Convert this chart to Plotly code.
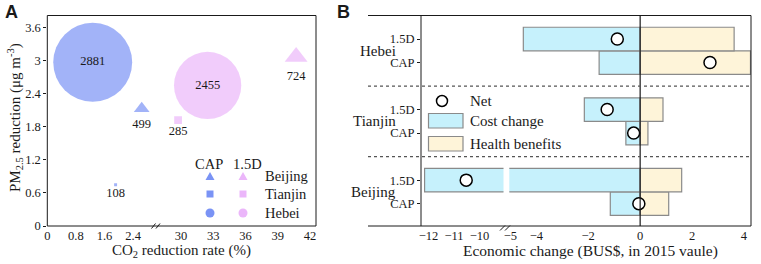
import plotly.graph_objects as go

W, H = 761, 264


def px(x):
    return x / W


def py(y):
    return 1 - y / H


SERIF = "Liberation Serif"
SANS = "Liberation Sans"
BLUE = "#7A93F5"
PINK = "#EBB6FA"
CYAN = "#C6F1FC"
CREAM = "#FEF4D9"
EDGE = "#8A8A8A"
INK = "#1a1a1a"

# ---------------- Panel A data ----------------
a_regions = ["Beijing", "Tianjin", "Hebei"]
a_symbols = {"Beijing": "triangle-up", "Tianjin": "square", "Hebei": "circle"}
cap_co2 = [2.64, 1.91, 1.27]
cap_pm = [2.13, 0.75, 2.97]
cap_val = [499, 108, 2881]
d15_co2 = [40.71, 29.72, 32.47]
d15_pm = [3.07, 1.92, 2.55]
d15_val = [724, 285, 2455]
a_yticks = [0, 0.6, 1.2, 1.8, 2.4, 3.0, 3.6]
a_yticktext = ["0", "0.6", "1.2", "1.8", "2.4", "3", "3.6"]
a_xticks_left = [0, 0.8, 1.6, 2.4]
a_xticks_right = [30, 33, 36, 39, 42]

# ---------------- Panel B data ----------------
b_regions = ["Beijing", "Tianjin", "Hebei"]
b_scen = ["CAP", "1.5D"]
b_cost = [-1.15, -12.15, -0.55, -2.15, -1.58, -4.50]
b_health = [1.10, 1.60, 0.30, 0.88, 4.25, 3.62]
b_net = [-0.05, -10.52, -0.25, -1.27, 2.69, -0.88]
b_xticks_left = [-12, -11, -10]
b_xticks_right = [-5, -4, -2, 0, 2, 4]

b_pos = [gi * 3 + si for gi in range(len(b_regions)) for si in range(len(b_scen))]
b_ticktext = [s for _ in b_regions for s in b_scen]

fig = go.Figure()

size_per_unit = 1 / 36.5
for xa, co2, pm, val, col in [("x", cap_co2, cap_pm, cap_val, BLUE),
                              ("x2", d15_co2, d15_pm, d15_val, PINK)]:
    fig.add_trace(go.Scatter(
        x=co2, y=pm, xaxis=xa, yaxis="y",
        mode="markers+text",
        text=[str(v) for v in val],
        textposition=["middle center" if r == "Hebei" else "bottom center" for r in a_regions],
        textfont=dict(family=SERIF, size=12.5, color=INK),
        marker=dict(symbol=[a_symbols[r] for r in a_regions],
                    size=[v * size_per_unit for v in val],
                    color=col, line=dict(width=0)),
        showlegend=False, hoverinfo="skip"))

for xa in ["x3", "x4"]:
    fig.add_trace(go.Bar(
        x=b_cost, y=b_pos, base=0, orientation="h", width=1,
        xaxis=xa, yaxis="y2", marker=dict(color=CYAN, line=dict(color=EDGE, width=1.2)),
        showlegend=False, hoverinfo="skip"))
    fig.add_trace(go.Bar(
        x=b_health, y=b_pos, base=0, orientation="h", width=1,
        xaxis=xa, yaxis="y2", marker=dict(color=CREAM, line=dict(color=EDGE, width=1.2)),
        showlegend=False, hoverinfo="skip"))
    fig.add_trace(go.Scatter(
        x=b_net, y=b_pos, xaxis=xa, yaxis="y2", mode="markers",
        marker=dict(symbol="circle", size=12, color="white", line=dict(color="black", width=1.5)),
        showlegend=False, hoverinfo="skip"))

tickfont = dict(family=SERIF, size=12.5, color=INK)
common_x = dict(showgrid=False, zeroline=False, showline=False, ticks="", automargin=False,
                tickfont=tickfont, fixedrange=True)
common_y = dict(showgrid=False, zeroline=False, showline=False, ticks="outside", ticklen=3,
                tickcolor=INK, tickfont=tickfont, automargin=False, fixedrange=True)

ya_dom = [py(226), py(15.5)]
fig.update_layout(
    width=W, height=H, margin=dict(l=0, r=0, t=0, b=0, pad=0), autosize=False,
    paper_bgcolor="white", plot_bgcolor="rgba(0,0,0,0)",
    barmode="overlay", showlegend=False, hovermode=False,
    xaxis=dict(domain=[px(47.3), px(156)], range=[0, 3.04], tickvals=a_xticks_left,
               ticktext=["0", "0.8", "1.6", "2.4"], anchor="y", **common_x),
    xaxis2=dict(domain=[px(156.5), px(316)], range=[27.71, 42.56], tickvals=a_xticks_right,
                anchor="y", **common_x),
    yaxis=dict(domain=ya_dom, range=[0, 3.82], tickvals=a_yticks, ticktext=a_yticktext,
               anchor="x", **common_y),
    xaxis3=dict(domain=[px(421), px(503.5)], range=[-12.29, -9.06], tickvals=b_xticks_left,
                anchor="y2", **common_x),
    xaxis4=dict(domain=[px(509.3), px(751)], range=[-5.04, 4.27], tickvals=b_xticks_right,
                anchor="y2", **common_x),
    yaxis2=dict(domain=ya_dom, range=[-0.95, 8.0], tickvals=b_pos, ticktext=b_ticktext,
                anchor="x3", **common_y),
)

shapes = []
line = dict(color=INK, width=1)
# Panel A frame
shapes.append(dict(type="rect", xref="paper", yref="paper", x0=px(47.3), x1=px(316),
                   y0=py(226), y1=py(15.5), line=line))
# Panel A axis break marks
for dx in (0, 4.5):
    shapes.append(dict(type="line", xref="paper", yref="paper", x0=px(151.5 + dx), x1=px(155.5 + dx),
                       y0=py(228.5), y1=py(223.5), line=dict(color=INK, width=1)))
# Panel B frame lines
shapes.append(dict(type="line", xref="paper", yref="paper", x0=px(368), x1=px(751),
                   y0=py(15.5), y1=py(15.5), line=line))
shapes.append(dict(type="line", xref="paper", yref="paper", x0=px(368), x1=px(751),
                   y0=py(226), y1=py(226), line=line))
shapes.append(dict(type="line", xref="paper", yref="paper", x0=px(751), x1=px(751),
                   y0=py(226), y1=py(15.5), line=line))
shapes.append(dict(type="line", xref="paper", yref="paper", x0=px(421), x1=px(421),
                   y0=py(226), y1=py(15.5), line=line))
# Panel B zero line
shapes.append(dict(type="line", xref="x4", yref="y2 domain", x0=0, x1=0, y0=0, y1=1,
                   line=dict(color=INK, width=1.2), layer="above"))
# Panel B group separators
for gi in range(1, len(b_regions)):
    ysep = gi * 3 - 1
    shapes.append(dict(type="line", xref="paper", yref="y2", x0=px(368), x1=px(751),
                       y0=ysep, y1=ysep, line=dict(color="#555", width=1.2, dash="dot")))
# Panel B axis break marks
for dx in (0, 5):
    shapes.append(dict(type="line", xref="paper", yref="paper", x0=px(500 + dx), x1=px(505 + dx),
                       y0=py(230.5), y1=py(225.5), line=dict(color=INK, width=1)))

# Panel A legend symbols
rows_y = [176, 194, 213]
for cx, col in [(210, BLUE), (243, PINK)]:
    ty = rows_y[0]
    shapes.append(dict(type="path", xref="paper", yref="paper",
                       path=f"M {px(cx-4.5)} {py(ty+4)} L {px(cx+4.5)} {py(ty+4)} L {px(cx)} {py(ty-4)} Z",
                       fillcolor=col, line=dict(width=0)))
    sy = rows_y[1]
    shapes.append(dict(type="rect", xref="paper", yref="paper", x0=px(cx-3.5), x1=px(cx+3.5),
                       y0=py(sy+3.5), y1=py(sy-3.5), fillcolor=col, line=dict(width=0)))
    cy = rows_y[2]
    shapes.append(dict(type="circle", xref="paper", yref="paper", x0=px(cx-4.5), x1=px(cx+4.5),
                       y0=py(cy+4.5), y1=py(cy-4.5), fillcolor=col, line=dict(width=0)))

# Panel B legend symbols
shapes.append(dict(type="circle", xref="paper", yref="paper", x0=px(436.5), x1=px(447.5),
                   y0=py(106.5), y1=py(95.5), fillcolor="white", line=dict(color="black", width=1.5)))
shapes.append(dict(type="rect", xref="paper", yref="paper", x0=px(428.5), x1=px(463),
                   y0=py(128), y1=py(113.5), fillcolor=CYAN, line=dict(color=EDGE, width=1.2)))
shapes.append(dict(type="rect", xref="paper", yref="paper", x0=px(428.5), x1=px(463),
                   y0=py(151), y1=py(136.5), fillcolor=CREAM, line=dict(color=EDGE, width=1.2)))

fig.update_layout(shapes=shapes)

ann = []


def text(t, x, y, size=14, xanchor="center", yanchor="middle", family=SERIF, angle=0, bold=False):
    if bold:
        t = f"<b>{t}</b>"
    ann.append(dict(text=t, x=px(x), y=py(y), xref="paper", yref="paper", showarrow=False,
                    xanchor=xanchor, yanchor=yanchor, textangle=angle,
                    font=dict(family=family, size=size, color=INK)))


text("A", 3, 0, size=18, xanchor="left", yanchor="top", family=SANS, bold=True)
text("B", 335, 0, size=18, xanchor="left", yanchor="top", family=SANS, bold=True)
text("PM<sub>2.5</sub> reduction (μg m<sup>-3</sup>)", 15, 118, size=15, angle=-90)
text("CO<sub>2</sub> reduction rate (%)", 181, 251, size=15)
text("Economic change (BUS$, in 2015 vaule)", 590, 251, size=15.5)

text("CAP", 209, 164, size=14.5)
text("1.5D", 248, 164, size=14.5)
for r, yy in zip(a_regions, rows_y):
    text(r, 263, yy, size=14.5, xanchor="left")

for gi, r in enumerate(b_regions):
    ymid_px = 203.7 - (gi * 3 + 0.5) * 23.53
    text(r, 398, ymid_px, size=15, xanchor="right")

text("Net", 468, 101, size=15, xanchor="left")
text("Cost change", 468, 121, size=15, xanchor="left")
text("Health benefits", 468, 144, size=15, xanchor="left")

fig.update_layout(annotations=ann)

fig.write_html("out.html", config={"displayModeBar": False, "staticPlot": True},
               post_script="document.body.style.margin='0';document.body.style.padding='0';")
